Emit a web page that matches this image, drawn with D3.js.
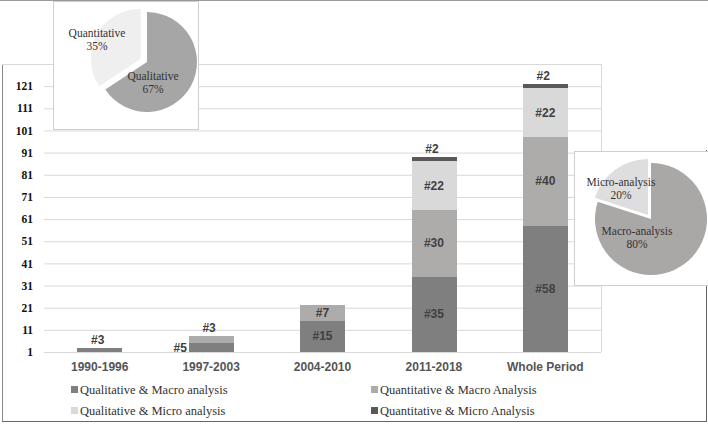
<!DOCTYPE html>
<html>
<head>
<meta charset="utf-8">
<script src="https://cdn.jsdelivr.net/npm/d3@7"></script>
<style>
  body { margin: 0; background: #fff; }
</style>
</head>
<body>
<svg id="chart"></svg>
<script>
// ----------------------------------------
//  Data
// ----------------------------------------
var categories = ["1990-1996", "1997-2003", "2004-2010", "2011-2018", "Whole Period"];
var seriesNames = ["Qualitative & Macro analysis", "Quantitative & Macro Analysis",
                   "Qualitative & Micro analysis", "Quantitative & Micro Analysis"];
var qualMacro  = [3, 5, 15, 35, 58];
var quantMacro = [0, 3, 7, 30, 40];
var qualMicro  = [0, 0, 0, 22, 22];
var quantMicro = [0, 0, 0, 2, 2];
var yTicks = [1, 11, 21, 31, 41, 51, 61, 71, 81, 91, 101, 111, 121];

var methodNames  = ["Qualitative", "Quantitative"];
var methodShares = [67, 35];
var levelNames   = ["Macro-analysis", "Micro-analysis"];
var levelShares  = [80, 20];

// ----------------------------------------
//  Sizing
// ----------------------------------------
var width = 708, height = 424;
var svg = d3.select("#chart").attr("width", width).attr("height", height);

var colors = ["#7f7f7f", "#aeabab", "#d9d9d9", "#595959"];
var sans = "'Liberation Sans', Arial, sans-serif";
var serif = "'Liberation Serif', 'Times New Roman', serif";

// frame lines
svg.append("line").attr("x1", 0).attr("x2", width).attr("y1", 0.5).attr("y2", 0.5)
  .attr("stroke", "#9a9a9a");
svg.append("line").attr("x1", 2.5).attr("x2", 2.5).attr("y1", 64).attr("y2", 422)
  .attr("stroke", "#8a8a8a");
svg.append("line").attr("x1", 2).attr("x2", 707).attr("y1", 421.5).attr("y2", 421.5)
  .attr("stroke", "#666");
svg.append("line").attr("x1", 706.5).attr("x2", 706.5).attr("y1", 150).attr("y2", 422)
  .attr("stroke", "#666");

// ----------------------------------------
//  Scales
// ----------------------------------------
var x = d3.scaleBand()
  .domain(categories)
  .range([44, 601])
  .paddingInner(0.6)
  .paddingOuter(0.3);

var y = d3.scaleLinear()
  .domain([1, 131])
  .range([352, 64]);

// gridlines + top border
svg.append("g")
  .attr("transform", "translate(44,0)")
  .call(d3.axisLeft(y).tickValues(yTicks.concat([131])).tickSize(-557).tickFormat(""))
  .call(function(g) {
    g.select(".domain").remove();
    g.selectAll(".tick line").attr("stroke", "#d9d9d9");
  });
svg.append("line").attr("x1", 2).attr("x2", 44).attr("y1", y(131) + 0.5).attr("y2", y(131) + 0.5)
  .attr("stroke", "#d9d9d9");
svg.append("line").attr("x1", 601.5).attr("x2", 601.5).attr("y1", 64).attr("y2", 352)
  .attr("stroke", "#d9d9d9");

// y tick labels
svg.append("g")
  .attr("transform", "translate(33,0)")
  .call(d3.axisLeft(y).tickValues(yTicks).tickSize(0).tickPadding(0))
  .call(function(g) {
    g.select(".domain").remove();
    g.selectAll("text")
      .attr("font-family", serif).attr("font-weight", "bold")
      .attr("font-size", "11.5px").attr("fill", "#111");
  });

// category labels
svg.append("g")
  .attr("transform", "translate(0,352)")
  .call(d3.axisBottom(x).tickSize(0).tickPadding(10))
  .call(function(g) {
    g.select(".domain").remove();
    g.selectAll("text")
      .attr("font-family", sans).attr("font-weight", "bold")
      .attr("font-size", "12px").attr("fill", "#555");
  });

// ----------------------------------------
//  Stacked bars
// ----------------------------------------
var rows = categories.map(function(c, i) {
  var r = { cat: c };
  r[seriesNames[0]] = qualMacro[i];
  r[seriesNames[1]] = quantMacro[i];
  r[seriesNames[2]] = qualMicro[i];
  r[seriesNames[3]] = quantMicro[i];
  return r;
});

var stacked = d3.stack().keys(seriesNames)(rows);

var layers = svg.selectAll(".layer").data(stacked).enter().append("g")
  .attr("class", "layer")
  .attr("fill", function(d, i) { return colors[i]; });

// rounded edges so stacked segments meet without a seam
layers.selectAll("rect")
  .data(function(d) { return d.filter(function(p) { return p[1] > p[0]; }); })
  .enter().append("rect")
  .attr("x", function(d) { return Math.round(x(d.data.cat)); })
  .attr("width", Math.round(x.bandwidth()))
  .attr("y", function(d) { return Math.round(y(d[1])); })
  .attr("height", function(d) { return Math.round(y(Math.max(d[0], 1))) - Math.round(y(d[1])); })
  .attr("shape-rendering", "crispEdges");

// data labels
var labelData = [];
stacked.forEach(function(layer, li) {
  layer.forEach(function(p, ci) {
    var v = p[1] - p[0];
    if (v <= 0) return;
    var isTop = stacked.slice(li + 1).every(function(l) { return l[ci][1] - l[ci][0] <= 0; });
    labelData.push({ cat: p.data.cat, v: v, y0: y(Math.max(p[0], 1)), y1: y(p[1]), top: isTop });
  });
});

svg.selectAll(".dlabel").data(labelData).enter().append("text")
  .attr("class", "dlabel")
  .attr("font-family", sans).attr("font-weight", "bold").attr("font-size", "12px")
  .attr("fill", "#404040")
  .attr("text-anchor", function(d) {
    return (d.y0 - d.y1 < 12 && !d.top) ? "end" : "middle";
  })
  .attr("x", function(d) {
    if (d.y0 - d.y1 < 12 && !d.top) return x(d.cat) - 2;
    if (d.y0 - d.y1 < 12) return x(d.cat) + x.bandwidth() / 2 - 2;
    return x(d.cat) + x.bandwidth() / 2;
  })
  .attr("y", function(d) {
    if (d.y0 - d.y1 < 12 && d.top) return d.y1 - 4;
    return (d.y0 + d.y1) / 2 + 4;
  })
  .text(function(d) { return "#" + d.v; });

// ----------------------------------------
//  Legend
// ----------------------------------------
var legend = svg.selectAll(".legend").data(seriesNames).enter().append("g")
  .attr("class", "legend")
  .attr("transform", function(d, i) {
    return "translate(" + (i % 2 === 0 ? 71 : 371) + "," + (i < 2 ? 390 : 411) + ")";
  });
legend.append("rect").attr("x", 0).attr("y", -4).attr("width", 7).attr("height", 7)
  .attr("fill", function(d, i) { return colors[i]; });
legend.append("text").attr("x", 9).attr("y", 4)
  .attr("font-family", serif).attr("font-size", "12.5px").attr("fill", "#333")
  .text(function(d) { return d; });

// ----------------------------------------
//  Inset pies
// ----------------------------------------
function drawPie(box, cx, cy, r, names, shares, fills, explode, labelPos) {
  svg.append("rect")
    .attr("x", box[0] + 0.5).attr("y", box[1] + 0.5)
    .attr("width", box[2]).attr("height", box[3])
    .attr("fill", "#fff").attr("stroke", "#cfcfcf");

  var arcs = d3.pie().sort(null).value(function(d) { return d; })(shares);
  var arc = d3.arc().innerRadius(0).outerRadius(r);
  var g = svg.append("g").attr("transform", "translate(" + cx + "," + cy + ")");

  g.selectAll("path").data(arcs).enter().append("path")
    .attr("d", arc)
    .attr("fill", function(d, i) { return fills[i]; })
    .attr("transform", function(d, i) {
      if (i !== 1) return null;
      var a = (d.startAngle + d.endAngle) / 2;
      return "translate(" + (Math.sin(a) * explode) + "," + (-Math.cos(a) * explode) + ")";
    });

  var t = g.selectAll(".plabel").data(arcs).enter().append("text")
    .attr("class", "plabel")
    .attr("text-anchor", "middle")
    .attr("font-family", serif).attr("font-size", "11.5px").attr("fill", "#333");
  t.append("tspan")
    .attr("x", function(d, i) { return labelPos[i][0]; })
    .attr("y", function(d, i) { return labelPos[i][1]; })
    .text(function(d, i) { return names[i]; });
  t.append("tspan")
    .attr("x", function(d, i) { return labelPos[i][0]; })
    .attr("y", function(d, i) { return labelPos[i][1] + 13; })
    .text(function(d, i) { return shares[i] + "%"; });
}

drawPie([53, 1, 145, 128], 147, 62, 50, methodNames, methodShares,
        ["#a6a6a6", "#efefef"], 7, [[6, 18], [-50, -25]]);
drawPie([574, 151, 136, 134], 651, 219, 56, levelNames, levelShares,
        ["#aaa7a7", "#dedede"], 5, [[-14, 16], [-30, -33]]);
</script>
</body>
</html>
